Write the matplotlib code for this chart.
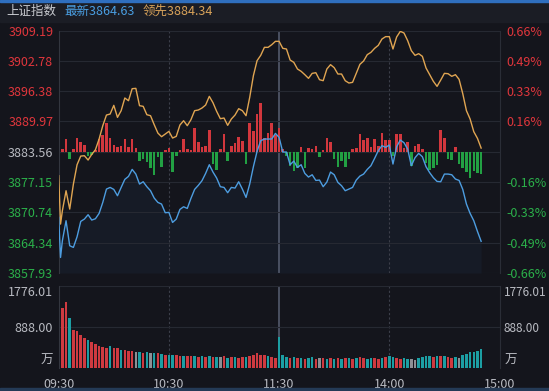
import matplotlib
matplotlib.use('Agg')
import matplotlib.pyplot as plt
from matplotlib.patches import Rectangle

plt.rcParams['font.family'] = ['Noto Sans CJK SC', 'DejaVu Sans']

# ---- data (minutes since 09:30, trading time) ----
prev_close = 3883.56
line_min = [0, 1] + list(range(2, 231, 2))
index_price = [
    3869.68, 3861.22, 3864.75, 3868.98, 3863.69, 3863.34, 3865.59, 3868.84, 3869.33, 3870.25,
    3869.12, 3869.40, 3870.53, 3872.85, 3875.67, 3876.02, 3875.60, 3874.26, 3876.02, 3877.72,
    3878.35, 3879.83, 3878.84, 3876.73, 3877.22, 3876.17, 3875.32, 3873.77, 3872.85, 3872.50,
    3870.67, 3870.74, 3868.62, 3869.33, 3871.37, 3871.93, 3871.58, 3873.70, 3875.60, 3876.45,
    3877.43, 3878.99, 3880.82, 3879.27, 3878.00, 3876.17, 3876.02, 3874.90, 3876.02, 3875.88,
    3877.22, 3875.67, 3873.91, 3876.73, 3880.40, 3883.64, 3885.89, 3886.25, 3886.25, 3886.25,
    3887.44, 3886.60, 3883.50, 3883.50, 3880.82, 3881.59, 3880.25, 3880.82, 3878.99, 3878.21,
    3878.70, 3877.50, 3877.57, 3876.17, 3877.15, 3879.27, 3878.70, 3877.08, 3876.38, 3875.32,
    3875.67, 3876.02, 3877.57, 3878.42, 3878.84, 3879.83, 3880.61, 3882.16, 3883.78, 3884.84,
    3884.49, 3884.98, 3880.96, 3884.63, 3886.04, 3885.47, 3884.13, 3880.61, 3882.30, 3883.22,
    3882.51, 3880.40, 3879.13, 3878.07, 3877.29, 3877.22, 3878.84, 3878.84, 3878.70, 3877.79,
    3877.50, 3875.60, 3872.50, 3870.53, 3868.98, 3866.72, 3864.63,
]
lead_price = [
    3878.49, 3868.27, 3871.09, 3875.32, 3871.44, 3876.73, 3880.82, 3882.65, 3882.72, 3881.81,
    3883.00, 3883.99, 3886.25, 3889.07, 3891.32, 3891.53, 3893.37, 3890.83, 3892.24, 3894.92,
    3894.35, 3896.89, 3896.96, 3893.30, 3893.16, 3891.39, 3891.18, 3889.28, 3887.51, 3886.74,
    3887.30, 3887.87, 3886.46, 3886.81, 3889.21, 3890.12, 3889.07, 3890.33, 3892.24, 3892.38,
    3892.80, 3893.44, 3895.27, 3893.93, 3892.10, 3890.55, 3890.69, 3889.14, 3890.48, 3891.32,
    3892.66, 3892.24, 3891.18, 3895.06, 3899.64, 3902.81, 3903.94, 3905.63, 3905.63, 3906.19,
    3906.90, 3906.90, 3905.42, 3905.28, 3902.95, 3902.46, 3901.05, 3900.56, 3899.85, 3899.08,
    3900.13, 3900.27, 3898.79, 3898.58, 3901.05, 3901.97, 3901.33, 3899.99, 3899.99, 3898.58,
    3898.09, 3898.23, 3900.13, 3902.04, 3902.74, 3904.08, 3904.57, 3905.42, 3906.05, 3907.39,
    3907.89, 3907.89, 3905.28, 3907.82, 3909.01, 3908.66, 3907.04, 3904.93, 3903.94, 3904.29,
    3903.73, 3901.26, 3899.85, 3898.44, 3897.38, 3898.72, 3900.13, 3900.06, 3899.50, 3899.85,
    3898.86, 3895.83, 3892.24, 3890.48, 3887.80, 3886.39, 3884.34,
]

bar_min = list(range(0, 231, 2))
strength = [
    -0.8, 0.5, 2.8, -1.5, 0.5, 3.0, 2.0, 1.5, -0.8, -0.6,
    0.4, 2.8, 3.5, 6.0, 3.0, 1.5, 1.0, 1.2, 2.8, 1.0,
    2.8, 0.8, -2.0, -1.6, -2.2, -3.5, -5.0, -1.2, -3.3, 0.3,
    0.8, -4.3, -1.0, 0.4, 2.6, 0.5, 0.4, 5.0, 2.0,
    1.0, 1.2, 4.6, -2.5, -3.8, 0.6, 3.8, -2.0, 1.2, 1.8,
    3.2, 2.2, -2.5, 6.0, 4.4, 8.0, 10.2, 3.0, 4.0, 6.0,
    3.5, 5.0, 0.6, -0.8, -3.0, -4.0, -3.5, 1.0, -3.5, 0.8,
    0.6, 1.2, -1.2, 0.4, 3.0, 2.0, -1.5, -3.2,
    -2.0, -3.3, -1.5, 0.6, 0.8, 3.8, 2.5, 2.9, 1.0, 2.6,
    1.2, 4.0, 2.5, 2.5, -0.9, 3.8, 3.8, 0.8, 2.0, -3.0,
    1.2, 1.6, 0.5, -2.4, -3.8, -3.5, -2.8, 4.5, 3.0, -1.6,
    -1.8, 1.0, -2.6, -3.5, -4.2, -5.5, -4.0, -4.5, -4.8,
]
volume = [
    1776, 1300, 1436, 1080, 823, 800, 715, 650, 600, 560,
    520, 470, 450, 440, 470, 440, 430, 400, 390, 370,
    360, 350, 340, 330, 340, 320, 330, 320, 300, 290,
    290, 280, 290, 260, 270, 250, 260, 250, 240,
    250, 240, 260, 230, 240, 230, 250, 220, 230, 240,
    220, 230, 240, 260, 280, 330, 290, 280, 250, 230,
    220, 680, 280, 240, 220, 230, 210, 220, 200, 210,
    230, 200, 210, 220, 190, 210, 200, 220,
    200, 210, 220, 200, 210, 230, 210, 200, 220, 210,
    200, 220, 230, 250, 230, 210, 200, 220, 190, 200,
    180, 210, 240, 250, 260, 240, 270, 260, 250, 230,
    220, 240, 220, 280, 300, 340, 350, 370, 410,
]
# r = up (red), t = down (teal), n = flat (grey)
vol_dir = ('trrtrrrrtr' 'rrrrtrrtrr' 'rntrtntrtr' 'ttrrtrrtr'
           'trtrtnrtrt' 'rrtrrrrrtr' 'rtttrtrtrt' 'trnrtrtr'
           'trtrtrrttr' 'rtrttrrttn' 'nttttrtrtr' 'rtntttttt')

price_ticks = [3909.19, 3902.78, 3896.38, 3889.97, 3883.56, 3877.15, 3870.74, 3864.34, 3857.93]
pct_labels = ['0.66%', '0.49%', '0.33%', '0.16%', '', '-0.16%', '-0.33%', '-0.49%', '-0.66%']
vol_ticks = [888.00, 1776.01]
time_ticks = [0, 60, 120, 180, 240]
time_labels = ['09:30', '10:30', '11:30', '14:00', '15:00']

BG = '#14151c'
GRID = '#262932'
RED = '#e0363c'
GREEN = '#2bb04a'
TEXT = '#b9bbc2'
W, H = 549, 391

fig = plt.figure(figsize=(W / 100, H / 100), dpi=100, facecolor=BG)
fig.patches.append(Rectangle((0, 1 - 22 / H), 1, 22 / H, transform=fig.transFigure,
                             color='#1b1d25', zorder=0))
fig.patches.append(Rectangle((0, 1 - 2 / H), 1, 2 / H, transform=fig.transFigure,
                             color='#2f6fbf', zorder=1))
fig.patches.append(Rectangle((0, 0), 1, 3 / H, transform=fig.transFigure,
                             color='#243a56', zorder=0))

fig.text(6 / W, 1 - 11 / H, '上证指数', color='#c9cbd0', fontsize=9, va='center')
fig.text(64 / W, 1 - 11 / H, '最新%.2f' % index_price[-1], color='#4a9fe3', fontsize=9, va='center')
fig.text(143 / W, 1 - 11 / H, '领先%.2f' % lead_price[-1], color='#d9a35a', fontsize=9, va='center')

# ---- price panel ----
ax = fig.add_axes([58.7 / W, 1 - 273 / H, 440.8 / W, 242.5 / H])
ax.set_facecolor(BG)
ax.set_xlim(0, 240)
ax.set_ylim(price_ticks[-1], price_ticks[0])
ax.set_yticks(price_ticks)
ax.set_yticklabels(['%.2f' % p for p in price_ticks])
ax.set_xticks([])
ax.grid(axis='y', color=GRID, lw=0.8)
ax.tick_params(axis='y', length=0, pad=4, labelsize=9)
for lab, p in zip(ax.get_yticklabels(), price_ticks):
    lab.set_color(RED if p > prev_close else (GREEN if p < prev_close else TEXT))
for s in ['top', 'bottom']:
    ax.spines[s].set_visible(False)
ax.spines['left'].set_color('#33363f')
ax.spines['right'].set_color('#2a2d36')

ax.bar(bar_min, strength, bottom=prev_close, width=1.4, linewidth=0,
       color=['#d2373d' if v > 0 else '#22a043' for v in strength], zorder=2)
ax.fill_between(line_min, index_price, price_ticks[-1], color='#3a6fb0', alpha=0.07, lw=0, zorder=1)
ax.plot(line_min, lead_price, color='#e0a552', lw=1.0, zorder=3)
ax.plot(line_min, index_price, color='#4d9de0', lw=1.0, zorder=3)

ax_r = ax.twinx()
ax_r.set_ylim(price_ticks[-1], price_ticks[0])
ax_r.set_yticks(price_ticks)
ax_r.set_yticklabels(pct_labels)
ax_r.tick_params(axis='y', length=0, pad=5, labelsize=9)
for lab, p in zip(ax_r.get_yticklabels(), price_ticks):
    lab.set_color(RED if p > prev_close else GREEN)
for s in ax_r.spines.values():
    s.set_visible(False)

# ---- volume panel ----
ax_v = fig.add_axes([58.7 / W, 1 - 368 / H, 440.8 / W, 82 / H])
ax_v.set_facecolor(BG)
ax_v.set_xlim(0, 240)
ax_v.set_ylim(0, vol_ticks[-1])
ax_v.set_yticks(vol_ticks)
ax_v.set_yticklabels(['%.2f' % v for v in vol_ticks])
ax_v.grid(axis='y', color=GRID, lw=0.8)
ax_v.tick_params(axis='y', length=0, pad=4, labelsize=9, labelcolor=TEXT)
ax_v.get_yticklabels()[-1].set_va('top')
ax_v.set_xticks(time_ticks)
ax_v.set_xticklabels(time_labels)
ax_v.tick_params(axis='x', length=0, pad=7, labelsize=9, labelcolor=TEXT)
for s in ['top', 'bottom']:
    ax_v.spines[s].set_visible(False)
ax_v.spines['left'].set_color('#33363f')
ax_v.spines['right'].set_color('#2a2d36')
vcol = {'r': '#cf3a40', 't': '#1c9ea3', 'n': '#8d8f94'}
ax_v.bar(bar_min, volume, width=1.4, linewidth=0, color=[vcol[c] for c in vol_dir], zorder=2)

ax_vr = ax_v.twinx()
ax_vr.set_ylim(0, vol_ticks[-1])
ax_vr.set_yticks(vol_ticks)
ax_vr.set_yticklabels(['%.2f' % v for v in vol_ticks])
ax_vr.tick_params(axis='y', length=0, pad=3, labelsize=8.5, labelcolor=TEXT)
ax_vr.get_yticklabels()[-1].set_va('top')
for s in ax_vr.spines.values():
    s.set_visible(False)

fig.text(53 / W, 1 - 360 / H, '万', color=TEXT, fontsize=9, ha='right', va='center')
fig.text(505 / W, 1 - 360 / H, '万', color=TEXT, fontsize=9, ha='left', va='center')

for a in (ax, ax_v):
    a.axvline(60, color='#3c3f4a', lw=0.8, ls=(0, (2, 2)), zorder=1)
    a.axvline(120, color='#535a6c', lw=1.2, zorder=1)
    a.axvline(180, color='#3c3f4a', lw=0.8, ls=(0, (2, 2)), zorder=1)

fig.savefig('out.png', dpi=100, facecolor=BG)
